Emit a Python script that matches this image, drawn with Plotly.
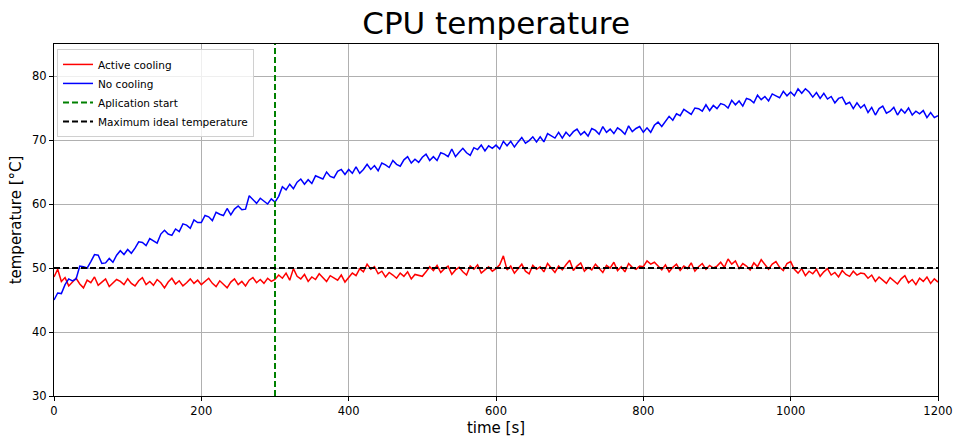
import plotly.graph_objects as go

# time axis (seconds), sampled every 5 s
time_s = list(range(0, 1201, 5))

no_cooling = [
    45.0, 46.1, 46.0, 47.4, 48.3, 48.0, 48.3, 50.3, 50.2, 50.0, 51.0, 52.1, 52.0, 50.7, 50.8, 51.5, 50.9, 52.0, 52.7, 52.1,
    52.9, 52.3, 53.1, 54.1, 54.0, 53.5, 54.6, 54.2, 53.9, 55.3, 55.9, 55.3, 55.1, 56.1, 55.7, 56.9, 56.7, 56.2, 57.5, 57.1,
    57.1, 58.2, 58.0, 57.4, 58.7, 58.4, 58.2, 59.3, 58.3, 59.2, 59.7, 59.1, 59.2, 61.3, 60.7, 60.1, 60.9, 60.4, 60.0, 60.8,
    60.3, 61.2, 62.7, 62.2, 63.1, 62.4, 63.4, 63.9, 63.1, 63.8, 63.2, 64.4, 64.2, 63.9, 65.0, 64.3, 64.1, 65.1, 65.4, 64.6,
    65.4, 64.8, 65.8, 64.8, 65.4, 66.2, 65.4, 66.0, 65.2, 66.4, 66.1, 65.7, 66.8, 66.2, 65.9, 66.9, 67.4, 66.4, 67.0, 66.5,
    67.3, 67.8, 66.8, 67.4, 66.8, 68.0, 67.8, 67.4, 68.6, 67.4, 68.1, 68.7, 68.0, 67.6, 68.8, 68.5, 69.2, 68.3, 69.1, 68.7,
    69.2, 68.6, 69.8, 69.1, 69.8, 68.9, 69.7, 70.4, 69.5, 69.9, 70.5, 69.7, 70.5, 69.7, 71.0, 70.7, 70.3, 71.2, 70.3, 71.2,
    70.6, 71.3, 71.7, 70.8, 71.3, 70.6, 71.8, 71.5, 70.9, 72.1, 71.2, 71.7, 71.0, 71.9, 71.5, 70.9, 72.2, 71.3, 71.8, 72.1,
    71.2, 71.9, 71.2, 72.3, 72.8, 72.1, 72.9, 73.7, 73.1, 74.1, 73.8, 74.8, 74.4, 74.0, 75.0, 74.9, 74.5, 75.5, 74.6, 75.4,
    74.9, 75.7, 75.5, 75.0, 76.2, 75.5, 76.1, 75.3, 76.5, 76.3, 75.8, 77.0, 76.3, 76.8, 76.1, 77.2, 76.9, 76.6, 77.6, 76.9,
    77.5, 76.9, 78.0, 77.3, 78.0, 77.5, 76.7, 77.4, 76.5, 77.3, 76.4, 76.8, 75.8, 76.5, 76.7, 75.6, 75.9, 74.9, 75.8, 75.0,
    75.5, 74.3, 75.1, 73.9, 74.9, 75.3, 74.2, 74.5, 75.1, 73.9, 74.8, 74.2, 75.0, 73.9, 74.5, 74.1, 74.6, 73.5, 74.3, 73.5,
    73.8,
]

active_cooling = [
    48.6, 49.8, 47.9, 48.5, 47.2, 47.8, 48.4, 47.5, 46.9, 48.1, 47.7, 48.6, 47.3, 47.8, 48.3, 47.1, 47.6, 48.2, 47.9, 47.4,
    48.3, 47.6, 47.2, 48.0, 48.5, 47.4, 47.9, 47.3, 48.2, 47.7, 46.9, 47.8, 48.4, 47.5, 48.0, 47.2, 47.7, 48.3, 47.6, 48.1,
    47.4, 47.9, 48.4, 47.6, 47.1, 48.0, 47.5, 46.9, 47.8, 48.3, 47.4, 47.9, 47.2, 48.1, 48.5, 47.7, 48.2, 47.6, 48.4, 47.9,
    48.2, 48.9, 48.4, 49.2, 48.1, 49.9, 48.7, 48.3, 49.0, 47.9, 48.6, 48.2, 49.1, 48.5, 47.9, 48.8, 48.4, 48.1, 48.9, 47.8,
    48.5, 49.2, 48.8, 49.9, 49.4, 50.6, 49.8, 50.2, 49.1, 49.5, 48.6, 49.3, 48.9, 48.4, 49.2, 48.7, 49.4, 48.3, 49.0, 48.8,
    48.7, 49.4, 50.2, 49.6, 50.4, 49.3, 49.9, 50.3, 49.0, 49.7, 50.1, 49.4, 48.9, 50.3, 49.8, 50.5, 49.2, 49.7, 50.2, 49.5,
    49.9, 50.5, 51.9, 49.7, 50.3, 49.2, 50.0, 50.6, 49.5, 49.1, 50.4, 49.8, 50.2, 49.4, 50.7, 49.9, 49.3, 50.3, 49.7, 50.5,
    51.2, 49.6, 50.3, 50.8, 49.5, 50.1, 49.7, 50.6, 49.9, 49.3, 50.4, 50.0, 50.9, 49.6, 50.2, 49.4, 50.7, 50.1, 49.8, 50.3,
    50.2, 51.1, 50.6, 50.9, 50.3, 49.7, 50.5, 49.4, 50.1, 50.6, 49.6, 50.3, 49.9, 50.8, 49.5, 50.2, 50.7, 49.8, 50.4, 50.0,
    50.3, 50.9, 50.1, 51.4, 50.6, 51.1, 49.9, 50.7, 50.3, 49.7, 50.8, 50.2, 51.3, 50.5, 49.8, 50.6, 51.0, 50.1, 49.6, 50.7,
    51.0, 49.8, 49.2, 49.9, 48.8, 49.5, 49.1, 49.8, 48.7, 49.4, 49.9, 48.9, 49.3, 48.6, 49.6, 49.0, 48.7, 49.5, 48.9, 49.2,
    49.1, 48.4, 48.9, 47.9, 48.6, 48.1, 47.6, 48.5, 48.0, 47.5, 48.3, 48.8, 47.7, 48.2, 47.4, 48.4, 47.9, 48.6, 47.6, 48.3,
    47.8,
]

app_start_s = 300
max_ideal_temp = 50
x_range = [0, 1200]
y_range = [30, 85]
x_ticks = [0, 200, 400, 600, 800, 1000, 1200]
y_ticks = [30, 40, 50, 60, 70, 80]

fig = go.Figure()
fig.add_trace(go.Scatter(x=time_s, y=active_cooling, mode="lines", name="Active cooling",
                         line=dict(color="#ff0000", width=1.5)))
fig.add_trace(go.Scatter(x=time_s, y=no_cooling, mode="lines", name="No cooling",
                         line=dict(color="#0000ff", width=1.5)))
fig.add_trace(go.Scatter(x=[app_start_s, app_start_s], y=y_range, mode="lines", name="Aplication start",
                         line=dict(color="#008000", width=2, dash="6px,3px")))
fig.add_trace(go.Scatter(x=x_range, y=[max_ideal_temp, max_ideal_temp], mode="lines",
                         name="Maximum ideal temperature",
                         line=dict(color="#000000", width=2, dash="6px,3px")))

axis_common = dict(showgrid=True, gridcolor="#b0b0b0", gridwidth=0.8, showline=True,
                   linecolor="#000000", linewidth=1, mirror=True, ticks="outside",
                   ticklen=4, tickcolor="#000000", zeroline=False, automargin=False,
                   tickfont=dict(family="DejaVu Sans", size=11.5, color="#000000"))

fig.update_layout(
    width=955, height=437,
    margin=dict(l=54, r=17, t=44, b=41),
    paper_bgcolor="white", plot_bgcolor="white",
    title=dict(text="CPU temperature", x=0.5195, xanchor="center", y=0.946, yanchor="middle",
               font=dict(family="DejaVu Sans", size=31, color="#000000")),
    xaxis=dict(range=x_range, tickvals=x_ticks,
               title=dict(text="time [s]", font=dict(family="DejaVu Sans", size=15, color="#000000"),
                          standoff=5),
               **axis_common),
    yaxis=dict(range=y_range, tickvals=y_ticks,
               title=dict(text="temperature [°C]", font=dict(family="DejaVu Sans", size=15, color="#000000"),
                          standoff=6),
               **axis_common),
    legend=dict(x=0.0034, y=0.986, xanchor="left", yanchor="top",
                bgcolor="rgba(255,255,255,0.8)", bordercolor="#d0d0d0", borderwidth=1,
                font=dict(family="DejaVu Sans", size=10.5, color="#000000"),
                itemwidth=30, tracegroupgap=0),
    showlegend=True,
)

fig.write_html("out.html")
